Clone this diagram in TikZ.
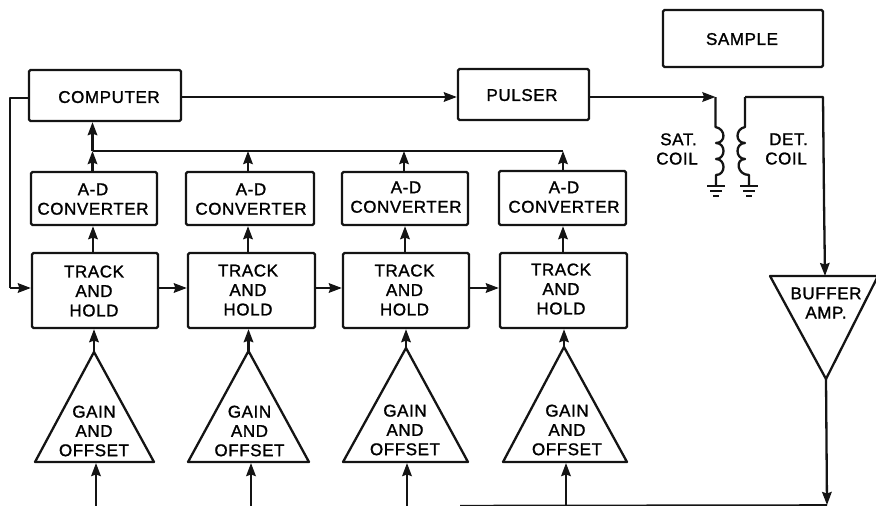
\documentclass[tikz,border=0pt]{standalone}
\usepackage{fontspec}
\setmainfont[FakeBold=1.3,LetterSpace=3.5]{Liberation Sans}
\usetikzlibrary{arrows.meta}
\tikzset{
  x=1pt,y=-1pt,
  wire/.style={line width=2.3pt,line join=round,draw=black!92},
  arr/.style={wire,-{Stealth[length=13pt,width=9.5pt,inset=1.5pt]}},
  blockbox/.style={draw=black!92,line width=2.3pt,rounded corners=1.5pt,inner sep=0pt,font=\fontsize{17}{19.5}\selectfont},
  lab/.style={inner sep=0pt,align=center,font=\fontsize{17}{19.3}\selectfont},
  tri/.style={draw=black!92,line width=2.3pt,line join=round},
}
% text inside a box, moved from the centre of the box by (dx,dy)
\newcommand{\tx}[3]{\sbox0{\begin{tabular}{@{}c@{}}#3\end{tabular}}\kern#1pt\kern#1pt\raisebox{-#2pt}[\dimexpr\ht0+#2pt\relax][\dimexpr\dp0+#2pt\relax]{\usebox0}}
\begin{document}
\begin{tikzpicture}
\useasboundingbox (0,0) rectangle (876,506);
\node[blockbox,minimum width=160pt,minimum height=57pt] (sample) at (743,38.5) {\tx{-1}{2.5}{SAMPLE}};
\node[blockbox,minimum width=152pt,minimum height=51pt] (comp) at (105,95.5) {\tx{4}{3.5}{COMPUTER}};
\node[blockbox,minimum width=131pt,minimum height=51pt] (puls) at (523.5,94.5) {\tx{-1.5}{2.5}{PULSER}};
\node[blockbox,minimum width=126pt,minimum height=53pt] (ad1) at (94,198.5) {\tx{-1}{2.5}{A-D\\CONVERTER}};
\node[blockbox,minimum width=128pt,minimum height=53pt] (ad2) at (250,198.5) {\tx{1}{2.5}{A-D\\CONVERTER}};
\node[blockbox,minimum width=126pt,minimum height=53pt] (ad3) at (405,198.5) {\tx{1}{0.5}{A-D\\CONVERTER}};
\node[blockbox,minimum width=127pt,minimum height=54pt] (ad4) at (562.5,198) {\tx{1.5}{1}{A-D\\CONVERTER}};
\node[blockbox,minimum width=126pt,minimum height=75pt] (th1) at (95,290.5) {\tx{-1}{2.5}{TRACK\\AND\\HOLD}};
\node[blockbox,minimum width=127pt,minimum height=75pt] (th2) at (251.5,290.5) {\tx{-3.5}{1.5}{TRACK\\AND\\HOLD}};
\node[blockbox,minimum width=126pt,minimum height=75pt] (th3) at (406,290.5) {\tx{-1.5}{1.5}{TRACK\\AND\\HOLD}};
\node[blockbox,minimum width=127pt,minimum height=75pt] (th4) at (563.5,290.5) {\tx{-2.5}{0.5}{TRACK\\AND\\HOLD}};
% triangles
\coordinate (g1) at (94,352); \coordinate (g2) at (248.5,351); \coordinate (g3) at (406,348); \coordinate (g4) at (564,347);
\draw[tri] (g1) -- (35,462) -- (154,462) -- cycle;
\draw[tri] (g2) -- (188,462) -- (309,462) -- cycle;
\draw[tri] (g3) -- (343,462) -- (468,462) -- cycle;
\draw[tri] (g4) -- (503,462) -- (627,462) -- cycle;
\node[lab] (gl1) at (94,431) {GAIN\\AND\\OFFSET};
\node[lab] (gl2) at (249.5,431) {GAIN\\AND\\OFFSET};
\node[lab] (gl3) at (405,430) {GAIN\\AND\\OFFSET};
\node[lab] (gl4) at (567,430) {GAIN\\AND\\OFFSET};
% buffer
\coordinate (b) at (826,379);
\coordinate (btop) at (825,276);
\draw[tri] (770,276) -- (878,276) -- (b) -- cycle;
\node[lab] (bl) at (826,303) {BUFFER\\AMP.};
\node[lab] (sat) at (677,149) {\kern3pt SAT.\\COIL};
\node[lab] (det) at (786,149) {\kern5pt DET.\\COIL};
% coils
\coordinate (c0) at (715.5,97); \coordinate (c2) at (716,186);
\coordinate (d0) at (745,97); \coordinate (d2) at (749,186);
\draw[wire] (c0) -- (715.5,127)
  .. controls (726,129) and (726,143) .. (716,143)
  .. controls (726,143) and (726,159) .. (716,159)
  .. controls (726,159) and (726,175) .. (716,175) -- (c2);
\draw[wire] (d0) -- (745,127)
  .. controls (735,129) and (735,143) .. (745,143)
  .. controls (735,143) and (735,159) .. (745,159)
  .. controls (735,159) and (737,175) .. (749,175) -- (d2);
\foreach \cx in {c2,d2}{
  \draw[wire] ([xshift=-9pt]\cx) -- ([xshift=9pt]\cx);
  \draw[wire] ([xshift=-6pt,yshift=-5pt]\cx) -- ([xshift=6pt,yshift=-5pt]\cx);
  \draw[wire] ([xshift=-3pt,yshift=-10pt]\cx) -- ([xshift=3pt,yshift=-10pt]\cx);
}
% connectors
\draw[arr] (comp.east|-puls.west) ++(0,2.5) -- ([yshift=-2.5pt]puls.west);
\draw[arr] ([yshift=-2.5pt]puls.east) -- (c0);
\draw[wire] (d0) -- (823,97) -- (824,200);
\draw[arr] (824,200) -- (btop);
\draw[wire] ([yshift=-2.5pt]comp.west) -- (10,98) -- (10,288);
\draw[arr] (10,288) -- (th1.west|-0,288);
\coordinate (busL) at (92.5,151); \coordinate (busR) at (563,151);
\draw[arr] (ad1.north-|busL) -- (busL);
\draw[arr] (busL) -- (comp.south-|busL);
\draw[wire] (busL) -- (busR);
\draw[arr] (ad2.north-|248,0) -- (248,151);
\draw[arr] (ad3.north-|404,0) -- (404,151);
\draw[arr] (ad4.north-|busR) -- (busR);
\draw[arr] (th1.north-|93,0) -- (ad1.south-|93,0);
\draw[arr] (th2.north-|248,0) -- (ad2.south-|248,0);
\draw[arr] (th3.north-|405,0) -- (ad3.south-|405,0);
\draw[arr] (th4.north-|563,0) -- (ad4.south-|563,0);
\draw[arr] (th1.east|-0,288) -- (th2.west|-0,288);
\draw[arr] (th2.east|-0,288) -- (th3.west|-0,288);
\draw[arr] (th3.east|-0,288) -- (th4.west|-0,288);
\draw[arr] (g1) -- (g1|-th1.south);
\draw[arr] (g2) -- (g2|-th2.south);
\draw[arr] (g3) -- (g3|-th3.south);
\draw[arr] (g4) -- (g4|-th4.south);
\coordinate (bend) at (827,505);
\draw[arr] (b) -- (bend);
\draw[wire,line width=1.6pt] (460,505.6) -- (bend);
\coordinate (i1) at (96,506); \coordinate (i2) at (251,506); \coordinate (i3) at (407,506); \coordinate (i4) at (566,506);
\draw[arr] (i1) -- (96,463);
\draw[arr] (i2) -- (251,463);
\draw[arr] (i3) -- (407,463);
\draw[arr] (i4) -- (566,463);
\end{tikzpicture}
\end{document}
